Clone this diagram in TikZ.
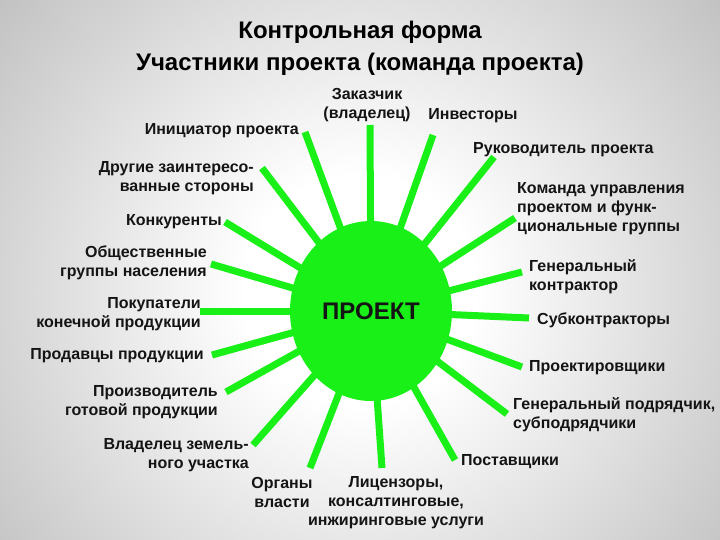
\documentclass[tikz,border=0pt]{standalone}
\usepackage{fontspec}
\setmainfont{Liberation Sans}
\usetikzlibrary{shapes.geometric}
\definecolor{sgreen}{RGB}{24,240,24}
\definecolor{txt}{RGB}{20,20,20}
\pgfdeclareradialshading{bgshade}{\pgfpointorigin}{color(0bp)=(white); color(8bp)=(white); color(46bp)=(gray!75); color(72bp)=(gray!84)}
\tikzset{
  lbl/.style={font=\fontsize{16}{19}\selectfont\bfseries, text=txt, inner sep=0pt},
  ray/.style={line width=7pt, draw=sgreen, shorten <=-8pt},
}
\begin{document}
\begin{tikzpicture}[x=1pt,y=-1pt]
\useasboundingbox (0,0) rectangle (720,540);
\begin{scope}
\clip (0,0) rectangle (720,540);
\shade[shading=bgshade] (0,-70) rectangle (720,650);
\end{scope}
% title
\node[font=\fontsize{24}{32}\selectfont\bfseries, text=black, align=center, inner sep=0pt] (title) at (360,48) {Контрольная форма\\Участники проекта (команда проекта)};
% centre
\node[ellipse, fill=sgreen, minimum width=162pt, minimum height=180pt, inner sep=0pt,
      font=\fontsize{24}{28}\selectfont\bfseries, text=txt] (proj) at (371,311) {ПРОЕКТ};
% ray ends
\coordinate (e1) at (370,125);
\coordinate (e2) at (433,135);
\coordinate (e3) at (494,157);
\coordinate (e4) at (515,218);
\coordinate (e5) at (522,272);
\coordinate (e6) at (529,318);
\coordinate (e7) at (522,367);
\coordinate (e8) at (507,414);
\coordinate (e9) at (455,460);
\coordinate (e10) at (382,468);
\coordinate (e11) at (310,468);
\coordinate (e12) at (253,445);
\coordinate (e13) at (226,392);
\coordinate (e14) at (212,355);
\coordinate (e15) at (200,311);
\coordinate (e16) at (211,264);
\coordinate (e17) at (225,222);
\coordinate (e18) at (262,168);
\coordinate (e19) at (305,132);
\foreach \i in {1,...,19} { \draw[ray] (proj) -- (e\i); }
% labels
\node[lbl, align=center] (zak) at (367,105) {Заказчик\\(владелец)};
\node[lbl] (inv) at (473,116) {Инвесторы};
\node[lbl, anchor=east] (ini) at (299,131) {Инициатор проекта};
\node[lbl, anchor=west] (ruk) at (473,150) {Руководитель проекта};
\node[lbl, anchor=east, align=right] (dru) at (254,178) {Другие заинтересо-\\ванные стороны};
\node[lbl, anchor=west, align=left] (kom) at (517,209) {Команда управления\\проектом и функ-\\циональные группы};
\node[lbl, anchor=east] (kon) at (222,222) {Конкуренты};
\node[lbl, anchor=east, align=right] (obs) at (207,263) {Общественные\\группы населения};
\node[lbl, anchor=west, align=left] (gk) at (529,277) {Генеральный\\контрактор};
\node[lbl, anchor=east, align=right] (pok) at (201,314) {Покупатели\\конечной продукции};
\node[lbl, anchor=west] (sub) at (537,320) {Субконтракторы};
\node[lbl, anchor=east] (prd) at (204,356) {Продавцы продукции};
\node[lbl, anchor=west] (prk) at (529,368) {Проектировщики};
\node[lbl, anchor=east, align=right] (prz) at (218,402) {Производитель\\готовой продукции};
\node[lbl, anchor=west, align=left] (gp) at (513,415) {Генеральный подрядчик,\\субподрядчики};
\node[lbl, anchor=east, align=right] (vla) at (249,455) {Владелец земель-\\ного участка};
\node[lbl, anchor=west] (pos) at (461,462) {Поставщики};
\node[lbl, align=center] (org) at (282,492) {Органы\\власти};
\node[lbl, align=center] (lic) at (396,503) {Лицензоры,\\консалтинговые,\\инжиринговые услуги};
\end{tikzpicture}
\end{document}
